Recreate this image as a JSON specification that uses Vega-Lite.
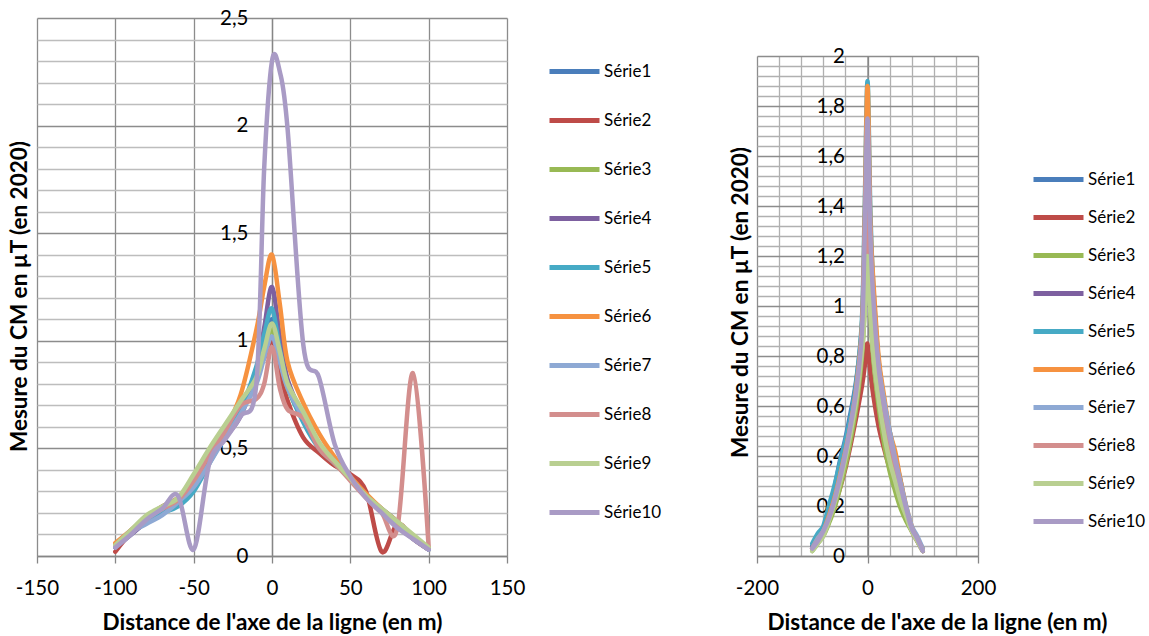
{
  "$schema": "https://vega.github.io/schema/vega-lite/v6.json",
  "padding": {"left": 8, "top": 8, "right": 0, "bottom": 0},
  "background": "white",
  "config": {
    "font": "Lato",
    "view": {"stroke": null},
    "axis": {
      "labelFont": "Lato", "labelFontSize": 20.5, "labelColor": "#000000",
      "titleFont": "Lato", "titleFontSize": 22.5, "titleFontWeight": "bold", "titleColor": "#000000",
      "domainColor": "#868686", "domainWidth": 1.3, "tickColor": "#868686", "tickWidth": 1.3,
      "labelFlush": false, "labelOverlap": false, "labelBound": false
    },
    "legend": {
      "labelFont": "Lato", "labelFontSize": 17, "labelColor": "#000000",
      "symbolType": "stroke", "symbolStrokeWidth": 5, "symbolSize": 2500,
      "labelOffset": 2, "padding": 0
    }
  },
  "datasets": {
    "left": [
      {"x": -100, "s01": 0.04, "s02": 0.02, "s03": 0.05, "s04": 0.04, "s05": 0.05, "s06": 0.06, "s07": 0.04, "s08": 0.05, "s09": 0.05, "s10": 0.04},
      {"x": -90, "s01": 0.10, "s02": 0.11, "s03": 0.12, "s04": 0.10, "s05": 0.11, "s06": 0.12, "s07": 0.11, "s08": 0.12, "s09": 0.12, "s10": 0.10},
      {"x": -80, "s01": 0.16, "s02": 0.18, "s03": 0.17, "s04": 0.16, "s05": 0.16, "s06": 0.18, "s07": 0.15, "s08": 0.18, "s09": 0.19, "s10": 0.17},
      {"x": -70, "s01": 0.21, "s02": 0.23, "s03": 0.22, "s04": 0.22, "s05": 0.20, "s06": 0.22, "s07": 0.19, "s08": 0.22, "s09": 0.23, "s10": 0.22},
      {"x": -60, "s01": 0.25, "s02": 0.27, "s03": 0.26, "s04": 0.26, "s05": 0.23, "s06": 0.27, "s07": 0.25, "s08": 0.26, "s09": 0.27, "s10": 0.28},
      {"x": -50, "s01": 0.33, "s02": 0.35, "s03": 0.35, "s04": 0.33, "s05": 0.30, "s06": 0.36, "s07": 0.32, "s08": 0.35, "s09": 0.38, "s10": 0.03},
      {"x": -40, "s01": 0.45, "s02": 0.47, "s03": 0.47, "s04": 0.44, "s05": 0.43, "s06": 0.47, "s07": 0.43, "s08": 0.47, "s09": 0.50, "s10": 0.43},
      {"x": -30, "s01": 0.57, "s02": 0.58, "s03": 0.58, "s04": 0.55, "s05": 0.56, "s06": 0.59, "s07": 0.55, "s08": 0.58, "s09": 0.61, "s10": 0.54},
      {"x": -20, "s01": 0.68, "s02": 0.69, "s03": 0.69, "s04": 0.65, "s05": 0.68, "s06": 0.75, "s07": 0.66, "s08": 0.70, "s09": 0.72, "s10": 0.65},
      {"x": -10, "s01": 0.85, "s02": 0.84, "s03": 0.84, "s04": 0.86, "s05": 0.88, "s06": 1.05, "s07": 0.80, "s08": 0.73, "s09": 0.83, "s10": 0.80},
      {"x": -5, "s01": 0.98, "s02": 0.92, "s03": 0.95, "s04": 1.06, "s05": 1.03, "s06": 1.25, "s07": 0.92, "s08": 0.80, "s09": 0.96, "s10": 1.80},
      {"x": 0, "s01": 1.10, "s02": 1.00, "s03": 1.05, "s04": 1.25, "s05": 1.15, "s06": 1.40, "s07": 1.02, "s08": 0.97, "s09": 1.08, "s10": 2.30},
      {"x": 5, "s01": 0.95, "s02": 0.86, "s03": 0.92, "s04": 1.02, "s05": 0.96, "s06": 1.17, "s07": 0.90, "s08": 0.78, "s09": 0.95, "s10": 2.25},
      {"x": 10, "s01": 0.80, "s02": 0.72, "s03": 0.78, "s04": 0.82, "s05": 0.79, "s06": 0.90, "s07": 0.78, "s08": 0.68, "s09": 0.80, "s10": 1.98},
      {"x": 20, "s01": 0.63, "s02": 0.55, "s03": 0.63, "s04": 0.65, "s05": 0.62, "s06": 0.71, "s07": 0.64, "s08": 0.64, "s09": 0.67, "s10": 0.98},
      {"x": 30, "s01": 0.52, "s02": 0.48, "s03": 0.51, "s04": 0.52, "s05": 0.50, "s06": 0.57, "s07": 0.52, "s08": 0.50, "s09": 0.53, "s10": 0.83},
      {"x": 40, "s01": 0.44, "s02": 0.42, "s03": 0.43, "s04": 0.44, "s05": 0.43, "s06": 0.46, "s07": 0.44, "s08": 0.43, "s09": 0.44, "s10": 0.52},
      {"x": 50, "s01": 0.36, "s02": 0.38, "s03": 0.36, "s04": 0.36, "s05": 0.36, "s06": 0.37, "s07": 0.36, "s08": 0.35, "s09": 0.36, "s10": 0.37},
      {"x": 60, "s01": 0.28, "s02": 0.30, "s03": 0.28, "s04": 0.28, "s05": 0.28, "s06": 0.29, "s07": 0.28, "s08": 0.27, "s09": 0.28, "s10": 0.27},
      {"x": 70, "s01": 0.21, "s02": 0.02, "s03": 0.21, "s04": 0.21, "s05": 0.22, "s06": 0.22, "s07": 0.21, "s08": 0.20, "s09": 0.22, "s10": 0.20},
      {"x": 80, "s01": 0.15, "s02": 0.15, "s03": 0.15, "s04": 0.14, "s05": 0.16, "s06": 0.16, "s07": 0.14, "s08": 0.13, "s09": 0.16, "s10": 0.13},
      {"x": 90, "s01": 0.09, "s02": 0.08, "s03": 0.09, "s04": 0.08, "s05": 0.09, "s06": 0.09, "s07": 0.08, "s08": 0.85, "s09": 0.10, "s10": 0.08},
      {"x": 100, "s01": 0.03, "s02": 0.03, "s03": 0.03, "s04": 0.03, "s05": 0.03, "s06": 0.04, "s07": 0.03, "s08": 0.04, "s09": 0.04, "s10": 0.03}
    ],
    "right": [
      {"x": -100, "s01": 0.04, "s02": 0.03, "s03": 0.02, "s04": 0.03, "s05": 0.05, "s06": 0.03, "s07": 0.03, "s08": 0.03, "s09": 0.02, "s10": 0.03},
      {"x": -90, "s01": 0.08, "s02": 0.06, "s03": 0.05, "s04": 0.07, "s05": 0.09, "s06": 0.07, "s07": 0.07, "s08": 0.06, "s09": 0.05, "s10": 0.06},
      {"x": -80, "s01": 0.11, "s02": 0.09, "s03": 0.08, "s04": 0.10, "s05": 0.12, "s06": 0.10, "s07": 0.10, "s08": 0.09, "s09": 0.08, "s10": 0.10},
      {"x": -70, "s01": 0.18, "s02": 0.14, "s03": 0.13, "s04": 0.16, "s05": 0.20, "s06": 0.16, "s07": 0.15, "s08": 0.15, "s09": 0.14, "s10": 0.15},
      {"x": -60, "s01": 0.27, "s02": 0.20, "s03": 0.19, "s04": 0.24, "s05": 0.28, "s06": 0.23, "s07": 0.22, "s08": 0.22, "s09": 0.21, "s10": 0.22},
      {"x": -50, "s01": 0.38, "s02": 0.27, "s03": 0.27, "s04": 0.33, "s05": 0.37, "s06": 0.32, "s07": 0.31, "s08": 0.30, "s09": 0.29, "s10": 0.31},
      {"x": -40, "s01": 0.47, "s02": 0.35, "s03": 0.36, "s04": 0.43, "s05": 0.46, "s06": 0.42, "s07": 0.41, "s08": 0.40, "s09": 0.39, "s10": 0.41},
      {"x": -30, "s01": 0.58, "s02": 0.45, "s03": 0.47, "s04": 0.54, "s05": 0.56, "s06": 0.53, "s07": 0.52, "s08": 0.51, "s09": 0.50, "s10": 0.53},
      {"x": -20, "s01": 0.71, "s02": 0.56, "s03": 0.60, "s04": 0.68, "s05": 0.70, "s06": 0.68, "s07": 0.66, "s08": 0.64, "s09": 0.63, "s10": 0.67},
      {"x": -10, "s01": 0.92, "s02": 0.68, "s03": 0.80, "s04": 0.88, "s05": 0.95, "s06": 0.92, "s07": 0.86, "s08": 0.84, "s09": 0.82, "s10": 0.90},
      {"x": -5, "s01": 1.25, "s02": 0.76, "s03": 1.00, "s04": 1.18, "s05": 1.40, "s06": 1.35, "s07": 1.12, "s08": 1.08, "s09": 0.98, "s10": 1.30},
      {"x": 0, "s01": 1.60, "s02": 0.85, "s03": 1.30, "s04": 1.55, "s05": 1.90, "s06": 1.88, "s07": 1.45, "s08": 1.40, "s09": 1.20, "s10": 1.75},
      {"x": 5, "s01": 1.25, "s02": 0.74, "s03": 1.00, "s04": 1.18, "s05": 1.40, "s06": 1.35, "s07": 1.12, "s08": 1.08, "s09": 0.98, "s10": 1.30},
      {"x": 10, "s01": 1.05, "s02": 0.65, "s03": 0.80, "s04": 0.98, "s05": 1.10, "s06": 1.12, "s07": 0.95, "s08": 0.90, "s09": 0.82, "s10": 1.05},
      {"x": 20, "s01": 0.78, "s02": 0.52, "s03": 0.60, "s04": 0.74, "s05": 0.78, "s06": 0.80, "s07": 0.76, "s08": 0.70, "s09": 0.63, "s10": 0.76},
      {"x": 30, "s01": 0.62, "s02": 0.43, "s03": 0.45, "s04": 0.58, "s05": 0.60, "s06": 0.64, "s07": 0.62, "s08": 0.55, "s09": 0.49, "s10": 0.60},
      {"x": 40, "s01": 0.50, "s02": 0.35, "s03": 0.34, "s04": 0.46, "s05": 0.47, "s06": 0.50, "s07": 0.50, "s08": 0.44, "s09": 0.38, "s10": 0.48},
      {"x": 50, "s01": 0.40, "s02": 0.28, "s03": 0.26, "s04": 0.37, "s05": 0.38, "s06": 0.42, "s07": 0.39, "s08": 0.35, "s09": 0.30, "s10": 0.38},
      {"x": 60, "s01": 0.30, "s02": 0.21, "s03": 0.19, "s04": 0.27, "s05": 0.28, "s06": 0.30, "s07": 0.29, "s08": 0.26, "s09": 0.22, "s10": 0.28},
      {"x": 70, "s01": 0.19, "s02": 0.15, "s03": 0.14, "s04": 0.18, "s05": 0.19, "s06": 0.20, "s07": 0.20, "s08": 0.18, "s09": 0.16, "s10": 0.19},
      {"x": 80, "s01": 0.11, "s02": 0.10, "s03": 0.10, "s04": 0.11, "s05": 0.11, "s06": 0.12, "s07": 0.12, "s08": 0.11, "s09": 0.10, "s10": 0.11},
      {"x": 90, "s01": 0.07, "s02": 0.06, "s03": 0.06, "s04": 0.07, "s05": 0.07, "s06": 0.07, "s07": 0.08, "s08": 0.07, "s09": 0.06, "s10": 0.07},
      {"x": 100, "s01": 0.02, "s02": 0.02, "s03": 0.02, "s04": 0.02, "s05": 0.03, "s06": 0.03, "s07": 0.03, "s08": 0.02, "s09": 0.02, "s10": 0.02}
    ]
  },
  "spacing": 67,
  "resolve": {"scale": {"color": "independent"}, "legend": {"color": "independent"}},
  "hconcat": [
    {
      "width": 470,
      "height": 538,
      "data": {"name": "left"},
      "transform": [{"fold": ["s01", "s02", "s03", "s04", "s05", "s06", "s07", "s08", "s09", "s10"], "as": ["serie", "mesure"]}],
      "mark": {"type": "line", "interpolate": "cardinal", "strokeWidth": 4.5, "strokeCap": "round", "strokeJoin": "round"},
      "encoding": {
        "x": {
          "field": "x", "type": "quantitative",
          "scale": {"domain": [-150, 150], "nice": false, "zero": false},
          "axis": {
            "values": [-150, -100, -50, 0, 50, 100, 150],
            "labelExpr": "(datum.value < 0 ? '-' : '') + abs(datum.value)",
            "grid": true, "gridColor": "#8c8c8c", "gridWidth": 1.3,
            "tickSize": 7, "labelPadding": 15,
            "title": "Distance de l'axe de la ligne (en m)",
            "titleY": 66, "titleBaseline": "middle"
          }
        },
        "y": {
          "field": "mesure", "type": "quantitative",
          "scale": {"domain": [0, 2.5], "nice": false},
          "axis": {
            "values": [0, 0.1, 0.2, 0.3, 0.4, 0.5, 0.6, 0.7, 0.8, 0.9, 1, 1.1, 1.2, 1.3, 1.4, 1.5, 1.6, 1.7, 1.8, 1.9, 2, 2.1, 2.2, 2.3, 2.4, 2.5],
            "offset": -235,
            "ticks": false, "tickSize": 0, "labelPadding": 24,
            "labelExpr": "round(datum.value*10) % 5 == 0 ? replace('' + round(datum.value*10)/10, '.', ',') : ''",
            "grid": true,
            "gridColor": {"condition": {"test": "round(datum.value*10) % 5 == 0", "value": "#8c8c8c"}, "value": "#bdbdbd"},
            "gridWidth": 1.3,
            "title": "Mesure du CM en µT (en 2020)",
            "titleX": -253, "titleY": 278, "titleBaseline": "middle"
          }
        },
        "color": {
          "field": "serie", "type": "nominal",
          "scale": {
            "domain": ["s01", "s02", "s03", "s04", "s05", "s06", "s07", "s08", "s09", "s10"],
            "range": ["#4A7EBB", "#BE4B48", "#98B954", "#7D60A0", "#46AAC5", "#F69240", "#8EA9D4", "#D38E8D", "#B9CF91", "#A99BC5"]
          },
          "legend": {
            "title": null, "orient": "none", "legendX": 510, "legendY": 26,
            "rowPadding": 11,
            "labelExpr": "'Série' + toNumber(substring(datum.label, 1))"
          }
        }
      }
    },
    {
      "spacing": 0,
      "vconcat": [
        {
          "width": 221,
          "height": 28,
          "data": {"values": [{}]},
          "mark": {"type": "rect", "opacity": 0},
          "encoding": {}
        },
        {
          "width": 221,
          "height": 500,
          "data": {"name": "right"},
          "transform": [{"fold": ["s01", "s02", "s03", "s04", "s05", "s06", "s07", "s08", "s09", "s10"], "as": ["serie", "mesure"]}],
          "mark": {"type": "line", "interpolate": "cardinal", "strokeWidth": 4.5, "strokeCap": "round", "strokeJoin": "round"},
          "encoding": {
            "x": {
              "field": "x", "type": "quantitative",
              "scale": {"domain": [-200, 200], "nice": false, "zero": false},
              "axis": {
                "values": [-200, -160, -120, -80, -40, 0, 40, 80, 120, 160, 200],
                "labelExpr": "datum.value % 200 == 0 ? (datum.value < 0 ? '-' : '') + abs(datum.value) : ''",
                "grid": true,
                "gridColor": {"condition": {"test": "datum.value % 200 == 0", "value": "#8c8c8c"}, "value": "#b0b0b0"},
                "gridWidth": 1.3,
                "tickSize": 7, "labelPadding": 15,
                "tickOpacity": {"condition": {"test": "datum.value % 200 == 0", "value": 1}, "value": 0},
                "title": "Distance de l'axe de la ligne (en m)",
                "titleX": 180, "titleY": 66, "titleBaseline": "middle"
              }
            },
            "y": {
              "field": "mesure", "type": "quantitative",
              "scale": {"domain": [0, 2], "nice": false},
              "axis": {
                "values": [0, 0.04, 0.08, 0.12, 0.16, 0.2, 0.24, 0.28, 0.32, 0.36, 0.4, 0.44, 0.48, 0.52, 0.56, 0.6, 0.64, 0.68, 0.72, 0.76, 0.8, 0.84, 0.88, 0.92, 0.96, 1, 1.04, 1.08, 1.12, 1.16, 1.2, 1.24, 1.28, 1.32, 1.36, 1.4, 1.44, 1.48, 1.52, 1.56, 1.6, 1.64, 1.68, 1.72, 1.76, 1.8, 1.84, 1.88, 1.92, 1.96, 2],
                "offset": -110.5,
                "ticks": false, "tickSize": 0, "labelPadding": 23,
                "labelExpr": "round(datum.value*100) % 20 == 0 ? replace('' + round(datum.value*10)/10, '.', ',') : ''",
                "grid": true,
                "gridColor": {"condition": {"test": "round(datum.value*100) % 20 == 0", "value": "#8c8c8c"}, "value": "#b0b0b0"},
                "gridWidth": 1.3,
                "title": "Mesure du CM en µT (en 2020)",
                "titleX": -127, "titleY": 246, "titleBaseline": "middle"
              }
            },
            "color": {
              "field": "serie", "type": "nominal",
              "scale": {
                "domain": ["s01", "s02", "s03", "s04", "s05", "s06", "s07", "s08", "s09", "s10"],
                "range": ["#4A7EBB", "#BE4B48", "#98B954", "#7D60A0", "#46AAC5", "#F69240", "#8EA9D4", "#D38E8D", "#B9CF91", "#A99BC5"]
              },
              "legend": {
                "title": null, "orient": "none", "legendX": 274, "legendY": 134,
                "rowPadding": -0.8,
                "labelExpr": "'Série' + toNumber(substring(datum.label, 1))"
              }
            }
          }
        }
      ]
    }
  ]
}
